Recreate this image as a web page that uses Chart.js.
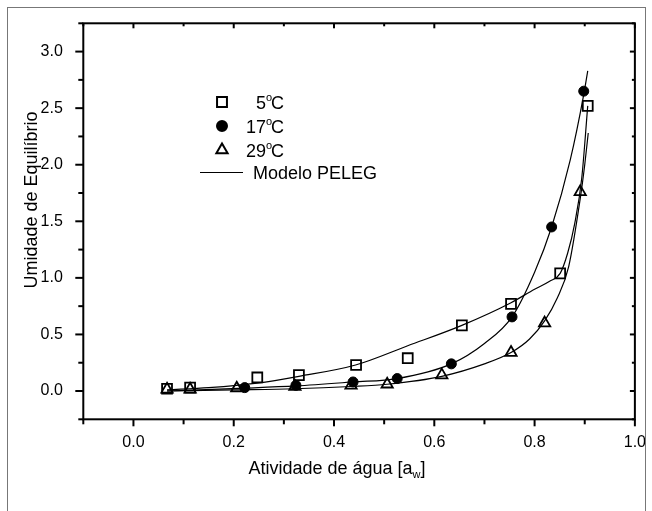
<!DOCTYPE html>
<html>
<head>
<meta charset="utf-8">
<script src="https://cdn.jsdelivr.net/npm/chart.js@4/dist/chart.umd.min.js"></script>
<style>
  html, body { margin: 0; padding: 0; background: #fff; }
  canvas { display: block; }
</style>
</head>
<body>
<canvas id="myChart" width="652" height="511"></canvas>
<script>
// measured points
const aw_5 = [0.067, 0.113, 0.247, 0.330, 0.444, 0.547, 0.655, 0.753, 0.851, 0.906];
const um_5 = [0.02, 0.03, 0.12, 0.14, 0.23, 0.29, 0.58, 0.77, 1.04, 2.52];
const aw_17 = [0.222, 0.324, 0.438, 0.526, 0.634, 0.755, 0.834, 0.898];
const um_17 = [0.03, 0.05, 0.08, 0.11, 0.24, 0.655, 1.45, 2.65];
const aw_29 = [0.067, 0.113, 0.206, 0.322, 0.434, 0.506, 0.615, 0.753, 0.820, 0.891];
const um_29 = [0.015, 0.015, 0.025, 0.04, 0.05, 0.06, 0.14, 0.34, 0.60, 1.76];

// Peleg model curves
const peleg5_x = [0.067, 0.15, 0.247, 0.33, 0.443, 0.547, 0.655, 0.753, 0.80, 0.83, 0.851, 0.866, 0.88, 0.894, 0.906];
const peleg5_y = [0.01, 0.03, 0.07, 0.13, 0.23, 0.40, 0.58, 0.78, 0.90, 0.97, 1.04, 1.22, 1.48, 1.88, 2.52];
const peleg17_x = [0.067, 0.222, 0.324, 0.438, 0.526, 0.634, 0.70, 0.755, 0.80, 0.834, 0.871, 0.898, 0.906];
const peleg17_y = [0.0, 0.025, 0.045, 0.08, 0.11, 0.24, 0.42, 0.655, 1.05, 1.45, 2.04, 2.62, 2.83];
const peleg29_x = [0.067, 0.2, 0.32, 0.434, 0.506, 0.615, 0.70, 0.753, 0.79, 0.82, 0.845, 0.868, 0.891, 0.90, 0.907];
const peleg29_y = [0.0, 0.01, 0.02, 0.04, 0.06, 0.13, 0.24, 0.34, 0.46, 0.62, 0.82, 1.1, 1.70, 2.0, 2.28];

const xTicks = [0.0, 0.2, 0.4, 0.6, 0.8, 1.0];
const xTickLabels = ["0.0", "0.2", "0.4", "0.6", "0.8", "1.0"];
const xMinor = [-0.1, 0.1, 0.3, 0.5, 0.7, 0.9];
const yTicks = [0.0, 0.5, 1.0, 1.5, 2.0, 2.5, 3.0];
const yTickLabels = ["0.0", "0.5", "1.0", "1.5", "2.0", "2.5", "3.0"];
const yMinor = [-0.25, 0.25, 0.75, 1.25, 1.75, 2.25, 2.75, 3.25];

const legendTemps = ["5", "17", "29"];
const legendModel = "Modelo PELEG";
const xTitle = "Atividade de água [a";
const yTitle = "Umidade de Equilíbrio";

const FONT = "'Liberation Sans', Arial, sans-serif";

const pts = (xs, ys) => xs.map((x, i) => ({ x: x, y: ys[i] }));

const markers = [
  { pointStyle: "rect", radius: 7, borderWidth: 1.8, fill: "rgba(0,0,0,0)" },
  { pointStyle: "circle", radius: 5, borderWidth: 1, fill: "#000" },
  { pointStyle: "triangle", radius: 6.5, borderWidth: 1.8, fill: "rgba(0,0,0,0)" },
];

function curve(xs, ys) {
  return {
    data: pts(xs, ys),
    showLine: true,
    borderColor: "#000",
    borderWidth: 1.2,
    pointRadius: 0,
    cubicInterpolationMode: "monotone",
    fill: false,
  };
}
function scatter(xs, ys, m) {
  return {
    data: pts(xs, ys),
    showLine: false,
    pointStyle: m.pointStyle,
    pointRadius: m.radius,
    pointBorderWidth: m.borderWidth,
    pointBorderColor: "#000",
    pointBackgroundColor: m.fill,
  };
}

const framePlugin = {
  id: "frame",
  afterDraw(chart) {
    const c = chart.ctx;
    const a = chart.chartArea;
    const sx = chart.scales.x, sy = chart.scales.y;
    c.save();
    // outer frame
    c.strokeStyle = "#777";
    c.lineWidth = 1;
    c.strokeRect(7.5, 7.5, 638, 510);

    c.strokeStyle = "#000";
    c.lineWidth = 2;
    c.strokeRect(a.left, a.top, a.right - a.left, a.bottom - a.top);

    const tick = (x1, y1, x2, y2) => { c.beginPath(); c.moveTo(x1, y1); c.lineTo(x2, y2); c.stroke(); };
    c.lineWidth = 2;
    xTicks.forEach(v => { const p = sx.getPixelForValue(v); tick(p, a.bottom, p, a.bottom + 7); tick(p, a.top, p, a.top + 5); });
    xMinor.forEach(v => { const p = sx.getPixelForValue(v); tick(p, a.bottom, p, a.bottom + 5); tick(p, a.top, p, a.top + 3); });
    yTicks.forEach(v => { const p = sy.getPixelForValue(v); tick(a.left - 8, p, a.left, p); tick(a.right, p, a.right - 5, p); });
    yMinor.forEach(v => { const p = sy.getPixelForValue(v); tick(a.left - 5, p, a.left, p); tick(a.right, p, a.right - 3, p); });

    // axis titles
    c.fillStyle = "#000";
    c.textBaseline = "alphabetic";
    c.font = "18px " + FONT;
    const w1 = c.measureText(xTitle).width;
    c.font = "11px " + FONT;
    const w2 = c.measureText("w").width;
    c.font = "18px " + FONT;
    let tx = 337.5 - (w1 + w2 + 6) / 2;
    c.fillText(xTitle, tx, 474);
    c.font = "11px " + FONT;
    c.fillText("w", tx + w1, 478);
    c.font = "18px " + FONT;
    c.fillText("]", tx + w1 + w2, 474);

    c.save();
    c.translate(37, 200);
    c.rotate(-Math.PI / 2);
    c.textAlign = "center";
    c.fillText(yTitle, 0, 0);
    c.restore();

    // legend
    const rows = [102, 126, 150];
    legendTemps.forEach((t, i) => {
      const m = markers[i];
      c.fillStyle = m.fill;
      c.strokeStyle = "#000";
      Chart.helpers.drawPoint(c, { pointStyle: m.pointStyle, radius: m.radius, borderWidth: m.borderWidth, rotation: 0 }, 222, rows[i]);
      c.fillStyle = "#000";
      c.font = "18px " + FONT;
      const tw = c.measureText(t).width;
      const x0 = 266 - tw;
      c.fillText(t, x0, rows[i] + 7);
      c.font = "11px " + FONT;
      c.fillText("o", x0 + tw, rows[i] - 1);
      c.font = "18px " + FONT;
      c.fillText("C", x0 + tw + 5, rows[i] + 7);
    });
    c.strokeStyle = "#000";
    c.lineWidth = 1;
    tick(200, 172.5, 243, 172.5);
    c.font = "18px " + FONT;
    c.fillText(legendModel, 253, 179);
    c.restore();
  },
};

const ctx = document.getElementById("myChart");
new Chart(ctx, {
  type: "scatter",
  data: {
    datasets: [
      curve(peleg5_x, peleg5_y),
      curve(peleg17_x, peleg17_y),
      curve(peleg29_x, peleg29_y),
      scatter(aw_5, um_5, markers[0]),
      scatter(aw_17, um_17, markers[1]),
      scatter(aw_29, um_29, markers[2]),
    ],
  },
  options: {
    responsive: false,
    animation: false,
    devicePixelRatio: 1,
    layout: { padding: { left: 0, top: 23.3, right: 16.3, bottom: 0 } },
    plugins: { legend: { display: false }, tooltip: { enabled: false } },
    scales: {
      x: {
        type: "linear",
        min: -0.1,
        max: 1.0,
        afterBuildTicks: (s) => { s.ticks = xTicks.map(v => ({ value: v })); },
        afterFit: (s) => { s.height = 91.7; },
        grid: { display: false },
        border: { display: false },
        ticks: {
          autoSkip: false,
          maxRotation: 0,
          padding: 6,
          color: "#000",
          font: { size: 16, family: FONT },
          callback: (v, i) => xTickLabels[i],
        },
      },
      y: {
        type: "linear",
        min: -0.25,
        max: 3.25,
        afterBuildTicks: (s) => { s.ticks = yTicks.map(v => ({ value: v })); },
        afterFit: (s) => { s.width = 83.3; },
        grid: { display: false },
        border: { display: false },
        ticks: {
          autoSkip: false,
          padding: 12.5,
          color: "#000",
          font: { size: 16, family: FONT },
          callback: (v, i) => yTickLabels[i],
        },
      },
    },
  },
  plugins: [framePlugin],
});
</script>
</body>
</html>
